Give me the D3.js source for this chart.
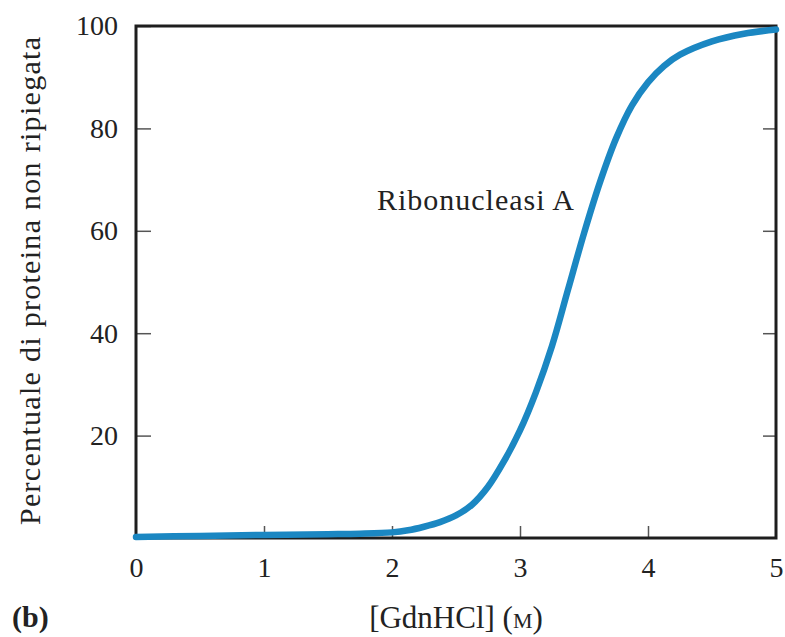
<!doctype html>
<html lang="it">
<head>
<meta charset="utf-8">
<title>Ribonucleasi A</title>
<style>
  body { margin: 0; background: #fff; }
  text { font-family: "Liberation Serif", "DejaVu Serif", serif; fill: #222; }
</style>
</head>
<body>
<script src="https://d3js.org/d3.v7.min.js"></script>
<script>
  // data
  var gdn = [0, 0.5, 1, 1.5, 1.75, 2, 2.125, 2.25, 2.375, 2.5, 2.625, 2.75, 2.875, 3, 3.125, 3.25, 3.375, 3.5, 3.625, 3.75, 3.875, 4, 4.125, 4.25, 4.5, 4.75, 5];
  var unfolded = [0.2, 0.4, 0.6, 0.75, 0.85, 1.1, 1.5, 2.2, 3.1, 4.4, 6.5, 10.0, 15.0, 21, 28.5, 37.5, 48.5, 59.5, 69.5, 78, 84.5, 89, 92.2, 94.4, 97, 98.5, 99.3];
  var xTicks = [0, 1, 2, 3, 4, 5];
  var yTicks = [20, 40, 60, 80, 100];

  var w = 785, h = 637;
  var mLeft = 136, mRight = 776, mTop = 26, mBottom = 538;

  var x = d3.scaleLinear().domain([0, 5]).range([mLeft, mRight]);
  var y = d3.scaleLinear().domain([0, 100]).range([mBottom, mTop]);

  var svg = d3.select("body").append("svg")
    .attr("width", w)
    .attr("height", h);

  // left axis, ticks inward
  var yAxis = svg.append("g")
    .attr("transform", "translate(" + mLeft + ",0)")
    .call(d3.axisLeft(y).tickValues(yTicks).tickSize(-15).tickPadding(18));

  // right ticks only
  var yAxisR = svg.append("g")
    .attr("transform", "translate(" + mRight + ",0)")
    .call(d3.axisRight(y).tickValues([20, 40, 60, 80]).tickSize(-13).tickFormat(""));

  // bottom axis
  var xAxis = svg.append("g")
    .attr("transform", "translate(0," + mBottom + ")")
    .call(d3.axisBottom(x).tickValues(xTicks).tickSize(-12).tickPadding(19).tickFormat(d3.format("d")));

  svg.selectAll(".domain").remove();
  svg.selectAll(".tick line").attr("stroke", "#555").attr("stroke-width", 1.5);
  svg.selectAll(".tick text")
    .style("font-size", "28px")
    .style("font-family", "Liberation Serif, serif")
    .attr("fill", "#222");
  xAxis.selectAll(".tick line").filter(function(d) { return d == 0 || d == 5; }).remove();

  // frame
  svg.append("rect")
    .attr("x", mLeft)
    .attr("y", mTop)
    .attr("width", mRight - mLeft)
    .attr("height", mBottom - mTop)
    .attr("fill", "none")
    .attr("stroke", "#1e1e1e")
    .attr("stroke-width", 3);

  // curve
  var line = d3.line()
    .x(function(d, i) { return x(gdn[i]); })
    .y(function(d) { return y(d); })
    .curve(d3.curveCatmullRom.alpha(0.5));

  svg.append("path")
    .datum(unfolded)
    .attr("d", line)
    .attr("fill", "none")
    .attr("stroke", "#1b87c2")
    .attr("stroke-width", 6.5)
    .attr("stroke-linecap", "round");

  // labels
  svg.append("text")
    .attr("x", 377)
    .attr("y", 210)
    .attr("textLength", 197)
    .style("font-size", "30px")
    .text("Ribonucleasi A");

  svg.append("text")
    .attr("transform", "translate(40,281) rotate(-90)")
    .attr("text-anchor", "middle")
    .attr("textLength", 488)
    .style("font-size", "30px")
    .text("Percentuale di proteina non ripiegata");

  var xt = svg.append("text")
    .attr("x", (mLeft + mRight) / 2)
    .attr("y", 628)
    .attr("text-anchor", "middle")
    .style("font-size", "31px");
  xt.append("tspan").text("[GdnHCl] (");
  xt.append("tspan").style("font-size", "22px").text("M");
  xt.append("tspan").text(")");

  svg.append("text")
    .attr("x", 12)
    .attr("y", 627)
    .style("font-size", "30px")
    .style("font-weight", "bold")
    .text("(b)");
</script>
</body>
</html>
